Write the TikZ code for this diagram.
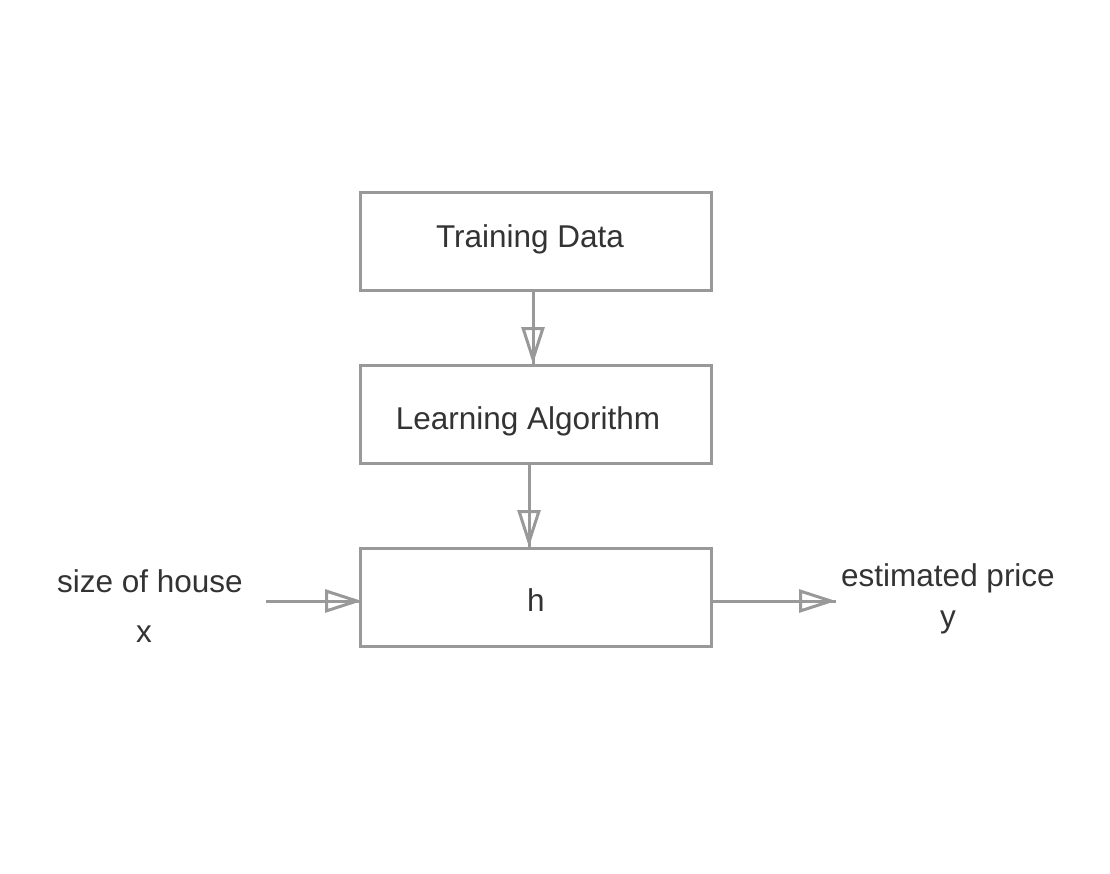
\documentclass[tikz,border=0pt]{standalone}
\usepackage{fontspec}
\setmainfont{Liberation Sans}
\usetikzlibrary{arrows.meta}
\definecolor{linegray}{HTML}{999999}
\definecolor{textgray}{HTML}{333333}
\tikzset{
  box/.style={draw=linegray, line width=3pt, minimum width=351pt, minimum height=98pt, inner sep=0pt, fill=white},
  txt/.style={text=textgray, font=\fontsize{31.5}{36}\selectfont, inner sep=0pt, anchor=base},
  conn/.style={draw=linegray, line width=3pt, -{Triangle[open, length=37pt, width=23pt, line width=3pt]}},
  shaft/.style={draw=linegray, line width=3pt}
}
\begin{document}
\begin{tikzpicture}[x=1pt,y=-1pt]
\useasboundingbox (0,0) rectangle (1110,873);
\node[box] (td) at (536,241.5) {};
\node[box] (la) at (536,414.5) {};
\node[box] (h)  at (536,597.5) {};
\node[txt] (tdt) at (530,247) {Training Data};
\node[txt] (lat) at (528,429) {Learning Algorithm};
\node[txt] (ht)  at (536,611) {h};
\node[txt] (in1) at (150,592) {size of house};
\node[txt] (in2) at (144,642) {x};
\node[txt] (out1) at (948,586) {estimated price};
\node[txt] (out2) at (948,627) {y};
\coordinate (a1s) at (533,292);
\coordinate (a1e) at (533,364);
\coordinate (a2s) at (529,465);
\coordinate (a2e) at (529,547);
\coordinate (xin) at (266,601);
\coordinate (xend) at (362,601);
\coordinate (hout) at (713,601);
\coordinate (yout) at (836,601);
\draw[conn] (td.south -| a1s) -- (la.north -| a1e);
\draw[shaft] (td.south -| a1s) -- (la.north -| a1e);
\draw[conn] (la.south -| a2s) -- (h.north -| a2e);
\draw[shaft] (la.south -| a2s) -- (h.north -| a2e);
\draw[conn] (xin) -- (xend);
\draw[shaft] (xin) -- (xend);
\draw[conn] (h.east |- hout) -- (yout);
\draw[shaft] (h.east |- hout) -- (yout);
\end{tikzpicture}
\end{document}
